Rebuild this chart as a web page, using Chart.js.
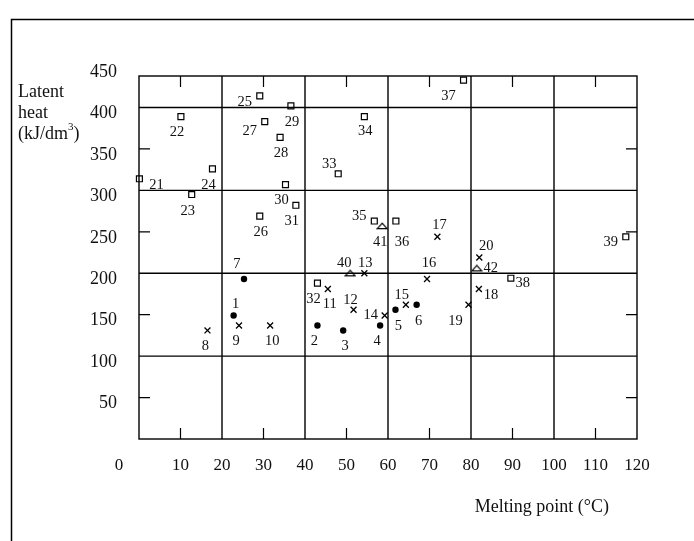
<!DOCTYPE html>
<html>
<head>
<meta charset="utf-8">
<title>Latent heat vs melting point</title>
<script src="https://cdn.jsdelivr.net/npm/chart.js@4.4.0/dist/chart.umd.min.js"></script>
<style>
  html, body { margin: 0; padding: 0; background: #fff; }
  #chart { display: block; }
</style>
</head>
<body>
<canvas id="chart" width="694" height="541"></canvas>
<script>
// melting point (°C) and latent heat (kJ/dm3), numbered as in the figure
const circleIds = [1, 2, 3, 4, 5, 6, 7];
const circleX = [22.8, 43.0, 49.2, 58.1, 61.8, 66.9, 25.3];
const circleY = [149, 137, 131, 137, 156, 162, 193];

const crossIds = [8, 9, 10, 11, 12, 13, 14, 15, 16, 17, 18, 19, 20];
const crossX = [16.5, 24.1, 31.6, 45.5, 51.7, 54.3, 59.2, 64.3, 69.4, 71.9, 81.9, 79.4, 82.0];
const crossY = [131, 137, 137, 181, 156, 200, 149, 162, 193, 244, 181, 162, 219];

const squareIds = [21, 22, 23, 24, 25, 26, 27, 28, 29, 30, 31, 32, 33, 34, 35, 36, 37, 38, 39];
const squareX = [0.1, 10.1, 12.7, 17.7, 29.1, 29.1, 30.3, 34.0, 36.6, 35.3, 37.8, 43.0, 48.0, 54.3, 56.7, 61.9, 78.2, 89.6, 117.3];
const squareY = [314, 389, 295, 326, 414, 269, 383, 364, 402, 307, 282, 188, 320, 389, 263, 263, 433, 194, 244];

const triangleIds = [40, 41, 42];
const triangleX = [50.9, 58.6, 81.4];
const triangleY = [200, 257, 206];

const xTickLabels = [0, 10, 20, 30, 40, 50, 60, 70, 80, 90, 100, 110, 120];
const yTickLabels = [50, 100, 150, 200, 250, 300, 350, 400, 450];
const xGrid = [20, 40, 60, 80, 100];
const yGrid = [100, 200, 300, 400];
const xMinor = [10, 30, 50, 70, 90, 110];
const yMinor = [50, 150, 250, 350];

// where each number sits relative to its marker (px), by id - 1
const labelShift = [
  [2, -11], [-3, 16], [2, 16], [-3, 16], [3, 16], [2, 16], [-7, -15],
  [-2, 16], [-3, 16], [2, 16], [2, 15], [-3, -10], [1, -10], [-14, 0],
  [-4, -10], [2, -16], [2, -12], [12, 6], [-13, 16], [7, -11],
  [17, 6], [-4, 16], [-4, 17], [-4, 16], [-15, 6], [1, 16], [-15, 10],
  [1, 16], [1, 16], [-4, 16], [-4, 16], [-4, 16], [-9, -10], [1, 15],
  [-15, -5], [6, 21], [-15, 16], [12, 5], [-15, 5],
  [-6, -10], [-2, 16], [14, 0]
];

const serif = '"Liberation Serif", "Times New Roman", serif';

function points(ids, xs, ys) {
  return ids.map((id, i) => ({ x: xs[i], y: ys[i], id: id }));
}

function flatTriangle() {
  const c = document.createElement('canvas');
  c.width = 12;
  c.height = 8;
  const g = c.getContext('2d');
  g.strokeStyle = '#000';
  g.lineWidth = 1.2;
  g.beginPath();
  g.moveTo(6, 1.2);
  g.lineTo(10.9, 6.7);
  g.lineTo(1.1, 6.7);
  g.closePath();
  g.stroke();
  return c;
}

const frame = {
  id: 'frame',
  beforeDraw(chart) {
    const ctx = chart.ctx;
    ctx.save();
    ctx.fillStyle = '#fff';
    ctx.fillRect(0, 0, chart.width, chart.height);
    ctx.strokeStyle = '#000';
    ctx.lineWidth = 1.5;
    ctx.beginPath();
    ctx.moveTo(11.5, chart.height);
    ctx.lineTo(11.5, 19.5);
    ctx.lineTo(chart.width, 19.5);
    ctx.stroke();
    ctx.restore();
  },
  beforeDatasetsDraw(chart) {
    const ctx = chart.ctx;
    const a = chart.chartArea;
    const x = chart.scales.x;
    const y = chart.scales.y;
    ctx.save();
    ctx.strokeStyle = '#000';
    ctx.lineWidth = 1.4;
    ctx.beginPath();
    xGrid.forEach(v => {
      const px = x.getPixelForValue(v);
      ctx.moveTo(px, a.top);
      ctx.lineTo(px, a.bottom);
    });
    yGrid.forEach(v => {
      const py = y.getPixelForValue(v);
      ctx.moveTo(a.left, py);
      ctx.lineTo(a.right, py);
    });
    ctx.stroke();
    ctx.strokeRect(a.left, a.top, a.right - a.left, a.bottom - a.top);

    ctx.lineWidth = 1.2;
    ctx.beginPath();
    xMinor.forEach(v => {
      const px = x.getPixelForValue(v);
      ctx.moveTo(px, a.top);
      ctx.lineTo(px, a.top + 11);
      ctx.moveTo(px, a.bottom);
      ctx.lineTo(px, a.bottom - 11);
    });
    yMinor.forEach(v => {
      const py = y.getPixelForValue(v);
      ctx.moveTo(a.left, py);
      ctx.lineTo(a.left + 11, py);
      ctx.moveTo(a.right, py);
      ctx.lineTo(a.right - 11, py);
    });
    ctx.stroke();

    ctx.fillStyle = '#111';
    ctx.textBaseline = 'middle';
    ctx.font = '18px ' + serif;
    ctx.textAlign = 'right';
    yTickLabels.forEach(v => ctx.fillText(String(v), a.left - 22, y.getPixelForValue(v) + 6));

    ctx.font = '17px ' + serif;
    ctx.textAlign = 'center';
    xTickLabels.forEach(v => {
      let px = x.getPixelForValue(v);
      if (v === 0) px -= 20;
      ctx.fillText(String(v), px, a.bottom + 27);
    });

    // axis titles
    ctx.font = '18px ' + serif;
    ctx.textAlign = 'left';
    ctx.fillText('Latent', 18, 92);
    ctx.fillText('heat', 18, 113);
    let tx = 18;
    ctx.fillText('(kJ/dm', tx, 134);
    tx += ctx.measureText('(kJ/dm').width;
    ctx.font = '11px ' + serif;
    ctx.fillText('3', tx, 127);
    tx += ctx.measureText('3').width;
    ctx.font = '18px ' + serif;
    ctx.fillText(')', tx, 134);

    ctx.textAlign = 'right';
    ctx.fillText('Melting point (°C)', 609, 507);
    ctx.restore();
  },
  afterDatasetsDraw(chart) {
    const ctx = chart.ctx;
    ctx.save();
    ctx.fillStyle = '#111';
    ctx.font = '14.5px ' + serif;
    ctx.textAlign = 'center';
    ctx.textBaseline = 'middle';
    chart.data.datasets.forEach((ds, di) => {
      const meta = chart.getDatasetMeta(di);
      meta.data.forEach((pt, i) => {
        const id = ds.data[i].id;
        const s = labelShift[id - 1];
        ctx.fillText(String(id), pt.x + s[0], pt.y + s[1]);
      });
    });
    ctx.restore();
  }
};

new Chart(document.getElementById('chart'), {
  type: 'scatter',
  data: {
    datasets: [
      {
        label: 'circles',
        data: points(circleIds, circleX, circleY),
        pointStyle: 'circle',
        pointRadius: 3.2,
        backgroundColor: '#000',
        borderColor: '#000',
        borderWidth: 0,
        clip: false
      },
      {
        label: 'crosses',
        data: points(crossIds, crossX, crossY),
        pointStyle: 'crossRot',
        pointRadius: 4.2,
        borderColor: '#000',
        borderWidth: 1.3,
        clip: false
      },
      {
        label: 'squares',
        data: points(squareIds, squareX, squareY),
        pointStyle: 'rect',
        pointRadius: 4.2,
        backgroundColor: 'rgba(0,0,0,0)',
        borderColor: '#000',
        borderWidth: 1.2,
        clip: false
      },
      {
        label: 'triangles',
        data: points(triangleIds, triangleX, triangleY),
        pointStyle: flatTriangle(),
        borderColor: '#000',
        clip: false
      }
    ]
  },
  options: {
    responsive: false,
    animation: false,
    devicePixelRatio: 1,
    events: [],
    layout: { padding: { left: 139, right: 57, top: 76, bottom: 102 } },
    plugins: {
      legend: { display: false },
      tooltip: { enabled: false }
    },
    scales: {
      x: { type: 'linear', min: 0, max: 120, display: false },
      y: { type: 'linear', min: 0, max: 438, display: false }
    }
  },
  plugins: [frame]
});
</script>
</body>
</html>
